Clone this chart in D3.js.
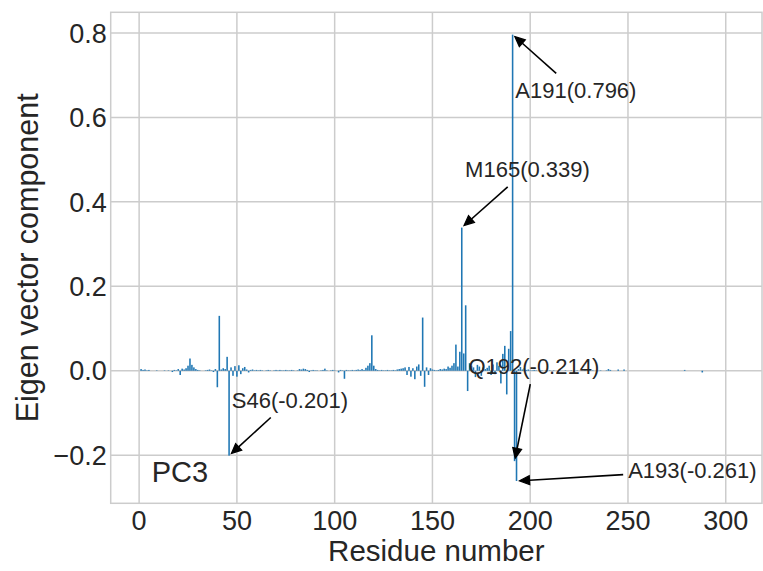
<!DOCTYPE html>
<html>
<head>
<meta charset="utf-8">
<script src="https://cdn.jsdelivr.net/npm/d3@7"></script>
<style>
body { margin: 0; background: #fff; }
svg text { font-family: "Liberation Sans", Arial, sans-serif; fill: #262626; }
</style>
</head>
<body>
<svg width="763" height="571"></svg>
<script>
// Eigen vector components of PC3, one value per residue (residue = index + 1)
var pc3Values = [
  0.004, 0.002, 0.003, 0.001, 0.002, 0, 0, 0, 0.001, 0,
  0, 0, 0.001, 0, 0.001, 0, -0.003, 0.002, 0.001, 0.004,
  -0.010, 0.005, 0.003, 0.006, 0.012, 0.029, 0.014, 0.008, 0.004, 0.002,
  0.001, 0, 0, 0.001, 0.002, 0.003, 0.001, -0.003, 0.004, -0.039,
  0.130, 0.003, 0.006, 0.004, 0.033, -0.201, 0.008, -0.012, 0.011, -0.014,
  0.013, -0.008, 0.006, 0.009, 0.003, -0.004, 0.002, 0.003, 0.001, 0.002,
  0.001, 0.002, 0.001, 0, 0.001, 0.002, 0.001, 0, 0.001, 0.002,
  0.001, 0.002, 0.001, 0.001, 0.002, 0.001, 0.001, 0.002, 0.001, 0,
  0.001, 0.004, 0.003, 0.005, 0.004, 0.002, -0.003, 0.001, 0.002, 0.001,
  0.001, 0, 0.001, 0.002, 0.005, 0.001, 0, 0.001, 0.002, 0.001,
  0, -0.004, 0.002, 0.001, -0.019, 0.002, 0.001, 0.001, 0.002, 0.001,
  0.002, 0.003, 0.002, 0.004, 0.002, 0.007, 0.012, 0.018, 0.084, 0.012,
  0.004, 0.002, 0.001, 0.002, 0.001, 0.001, 0.002, 0.001, 0.001, 0.002,
  0.001, 0.003, 0.004, 0.005, 0.006, 0.008, -0.010, 0.009, -0.014, 0.006,
  -0.020, 0.010, 0.015, -0.012, 0.126, -0.038, 0.008, -0.010, 0.006, 0.003,
  0.002, 0.001, 0.002, 0.004, 0.003, 0.005, 0.004, 0.010, 0.007, 0.012,
  0.018, 0.062, 0.010, 0.045, 0.339, 0.041, 0.155, -0.048, 0.018, 0.012,
  0.008, -0.015, 0.014, 0.010, -0.012, 0.008, 0.004, 0.007, 0.012, -0.010,
  0.015, -0.008, 0.020, 0.012, -0.030, 0.040, 0.059, -0.056, 0.052, 0.094,
  0.796, -0.214, -0.261, 0.004, 0.009, 0.003, 0.006, 0.002, 0.003, 0.001,
  0.001, 0.002, 0.001, 0, 0.001, 0.001, 0, 0.001, 0, 0.001,
  0, 0.001, 0, 0, 0.001, 0, 0, 0.001, 0, 0,
  0.001, 0, 0, 0.001, 0, 0, 0, 0.001, 0, 0,
  0, 0.001, 0, 0, 0, 0.001, 0, 0, 0.001, 0.004,
  0.002, 0, 0, 0, 0.003, 0, 0, 0.003, 0, 0,
  0, 0, 0, 0, 0, 0, 0, 0, 0, 0,
  0, 0, 0, 0, 0, 0, 0, 0, 0, 0,
  0, 0, 0, 0, 0, 0, 0, 0, 0.002, 0,
  0, 0, 0, 0, 0, 0, 0, -0.004, 0, 0,
  0, 0, 0, 0, 0, 0, 0, 0, 0, 0,
  0, 0, 0
];

// Tick values
var xTicks = [0, 50, 100, 150, 200, 250, 300];
var yTicks = [-0.2, 0.0, 0.2, 0.4, 0.6, 0.8];

// Annotated residues: label, residue, text position (data units)
var annLabels = ["A191(0.796)", "M165(0.339)", "S46(-0.201)", "Q192(-0.214)", "A193(-0.261)"];
var annResidues = [191, 165, 46, 192, 193];
var annTextX = [192.4, 166.7, 47.4, 168.4, 250.1];
var annTextY = [0.645, 0.459, -0.087, -0.008, -0.254];

var svg = d3.select("svg"),
    width = +svg.attr("width"),
    height = +svg.attr("height");

var plot = {left: 110.7, right: 762, top: 12.3, bottom: 503.3};

var data = pc3Values.map(function(v, i) { return {res: i + 1, val: v}; });

// matplotlib-like autoscale with 5% margins, bar width 0.8
var barW = 0.8;
var xLo = d3.min(data, function(d) { return d.res; }) - barW / 2,
    xHi = d3.max(data, function(d) { return d.res; }) + barW / 2,
    xPad = (xHi - xLo) * 0.05;
var yLo = d3.min(data, function(d) { return d.val; }),
    yHi = d3.max(data, function(d) { return d.val; }),
    yPad = (yHi - yLo) * 0.05;

var x = d3.scaleLinear().domain([xLo - xPad, xHi + xPad]).range([plot.left, plot.right]);
var y = d3.scaleLinear().domain([yLo - yPad, yHi + yPad]).range([plot.bottom, plot.top]);

var gridColor = "#cccccc";

// grid
svg.append("g").selectAll("line")
  .data(xTicks).enter().append("line")
    .attr("x1", function(d) { return x(d); }).attr("x2", function(d) { return x(d); })
    .attr("y1", plot.top).attr("y2", plot.bottom)
    .attr("stroke", gridColor).attr("stroke-width", 1.5);
svg.append("g").selectAll("line")
  .data(yTicks).enter().append("line")
    .attr("x1", plot.left).attr("x2", plot.right)
    .attr("y1", function(d) { return y(d); }).attr("y2", function(d) { return y(d); })
    .attr("stroke", gridColor).attr("stroke-width", 1.5);

// bars
svg.append("g").selectAll("rect")
  .data(data.filter(function(d) { return d.val !== 0; }))
  .enter().append("rect")
    .attr("x", function(d) { return x(d.res - barW / 2); })
    .attr("width", x(barW) - x(0))
    .attr("y", function(d) { return y(Math.max(0, d.val)); })
    .attr("height", function(d) { return Math.abs(y(d.val) - y(0)); })
    .attr("fill", "#1f77b4");

// frame
svg.append("rect")
  .attr("x", plot.left).attr("y", plot.top)
  .attr("width", plot.right - plot.left).attr("height", plot.bottom - plot.top)
  .attr("fill", "none").attr("stroke", gridColor).attr("stroke-width", 1.5);

// tick labels
var fmt = d3.format(".1f");
svg.append("g").selectAll("text")
  .data(yTicks).enter().append("text")
    .attr("x", plot.left - 4)
    .attr("y", function(d) { return y(d); })
    .attr("dy", "0.36em")
    .attr("text-anchor", "end")
    .style("font-size", "27px")
    .text(function(d) { return fmt(d).replace("-", "\u2212"); });
svg.append("g").selectAll("text")
  .data(xTicks).enter().append("text")
    .attr("x", function(d) { return x(d); })
    .attr("y", 530)
    .attr("text-anchor", "middle")
    .style("font-size", "27px")
    .text(function(d) { return d; });

// axis labels
svg.append("text")
  .attr("x", (plot.left + plot.right) / 2).attr("y", 561)
  .attr("text-anchor", "middle")
  .style("font-size", "29.5px")
  .text("Residue number");
svg.append("text")
  .attr("transform", "translate(38," + (plot.top + plot.bottom) / 2 + ") rotate(-90)")
  .attr("text-anchor", "middle")
  .style("font-size", "30.5px")
  .text("Eigen vector component");

// PC3 label
svg.append("text")
  .attr("x", x(6.4)).attr("y", y(-0.263))
  .style("font-size", "29px")
  .text("PC3");

// annotations with arrows
var annG = svg.append("g");
annLabels.forEach(function(label, i) {
  var res = annResidues[i];
  var tx = x(res), ty = y(pc3Values[res - 1]);
  var t = annG.append("text")
    .attr("x", x(annTextX[i])).attr("y", y(annTextY[i]))
    .style("font-size", "22px")
    .text(label);
  var bb = t.node().getBBox();
  var cx = bb.x + bb.width / 2, cy = bb.y + bb.height / 2;
  var dx = tx - cx, dy = ty - cy;
  var pad = 5;
  var k = Math.min(dx ? Math.abs((bb.width / 2 + pad) / dx) : Infinity,
                   dy ? Math.abs((bb.height / 2 + pad) / dy) : Infinity);
  var sx = cx + dx * k, sy = cy + dy * k;
  var len = Math.sqrt((tx - sx) * (tx - sx) + (ty - sy) * (ty - sy));
  var ux = (tx - sx) / len, uy = (ty - sy) / len;
  var shrink = 3, headL = 10, headW = 4.5;
  var ex = tx - ux * shrink, ey = ty - uy * shrink;
  var bx = ex - ux * headL, by = ey - uy * headL;
  annG.append("line")
    .attr("x1", sx).attr("y1", sy).attr("x2", bx).attr("y2", by)
    .attr("stroke", "#000").attr("stroke-width", 1.6);
  annG.append("path")
    .attr("d", "M" + ex + "," + ey +
               "L" + (bx - uy * headW) + "," + (by + ux * headW) +
               "L" + (bx + uy * headW) + "," + (by - ux * headW) + "Z")
    .attr("fill", "#000").attr("stroke", "#000").attr("stroke-width", 1.2)
    .attr("stroke-linejoin", "miter");
});
</script>
</body>
</html>
